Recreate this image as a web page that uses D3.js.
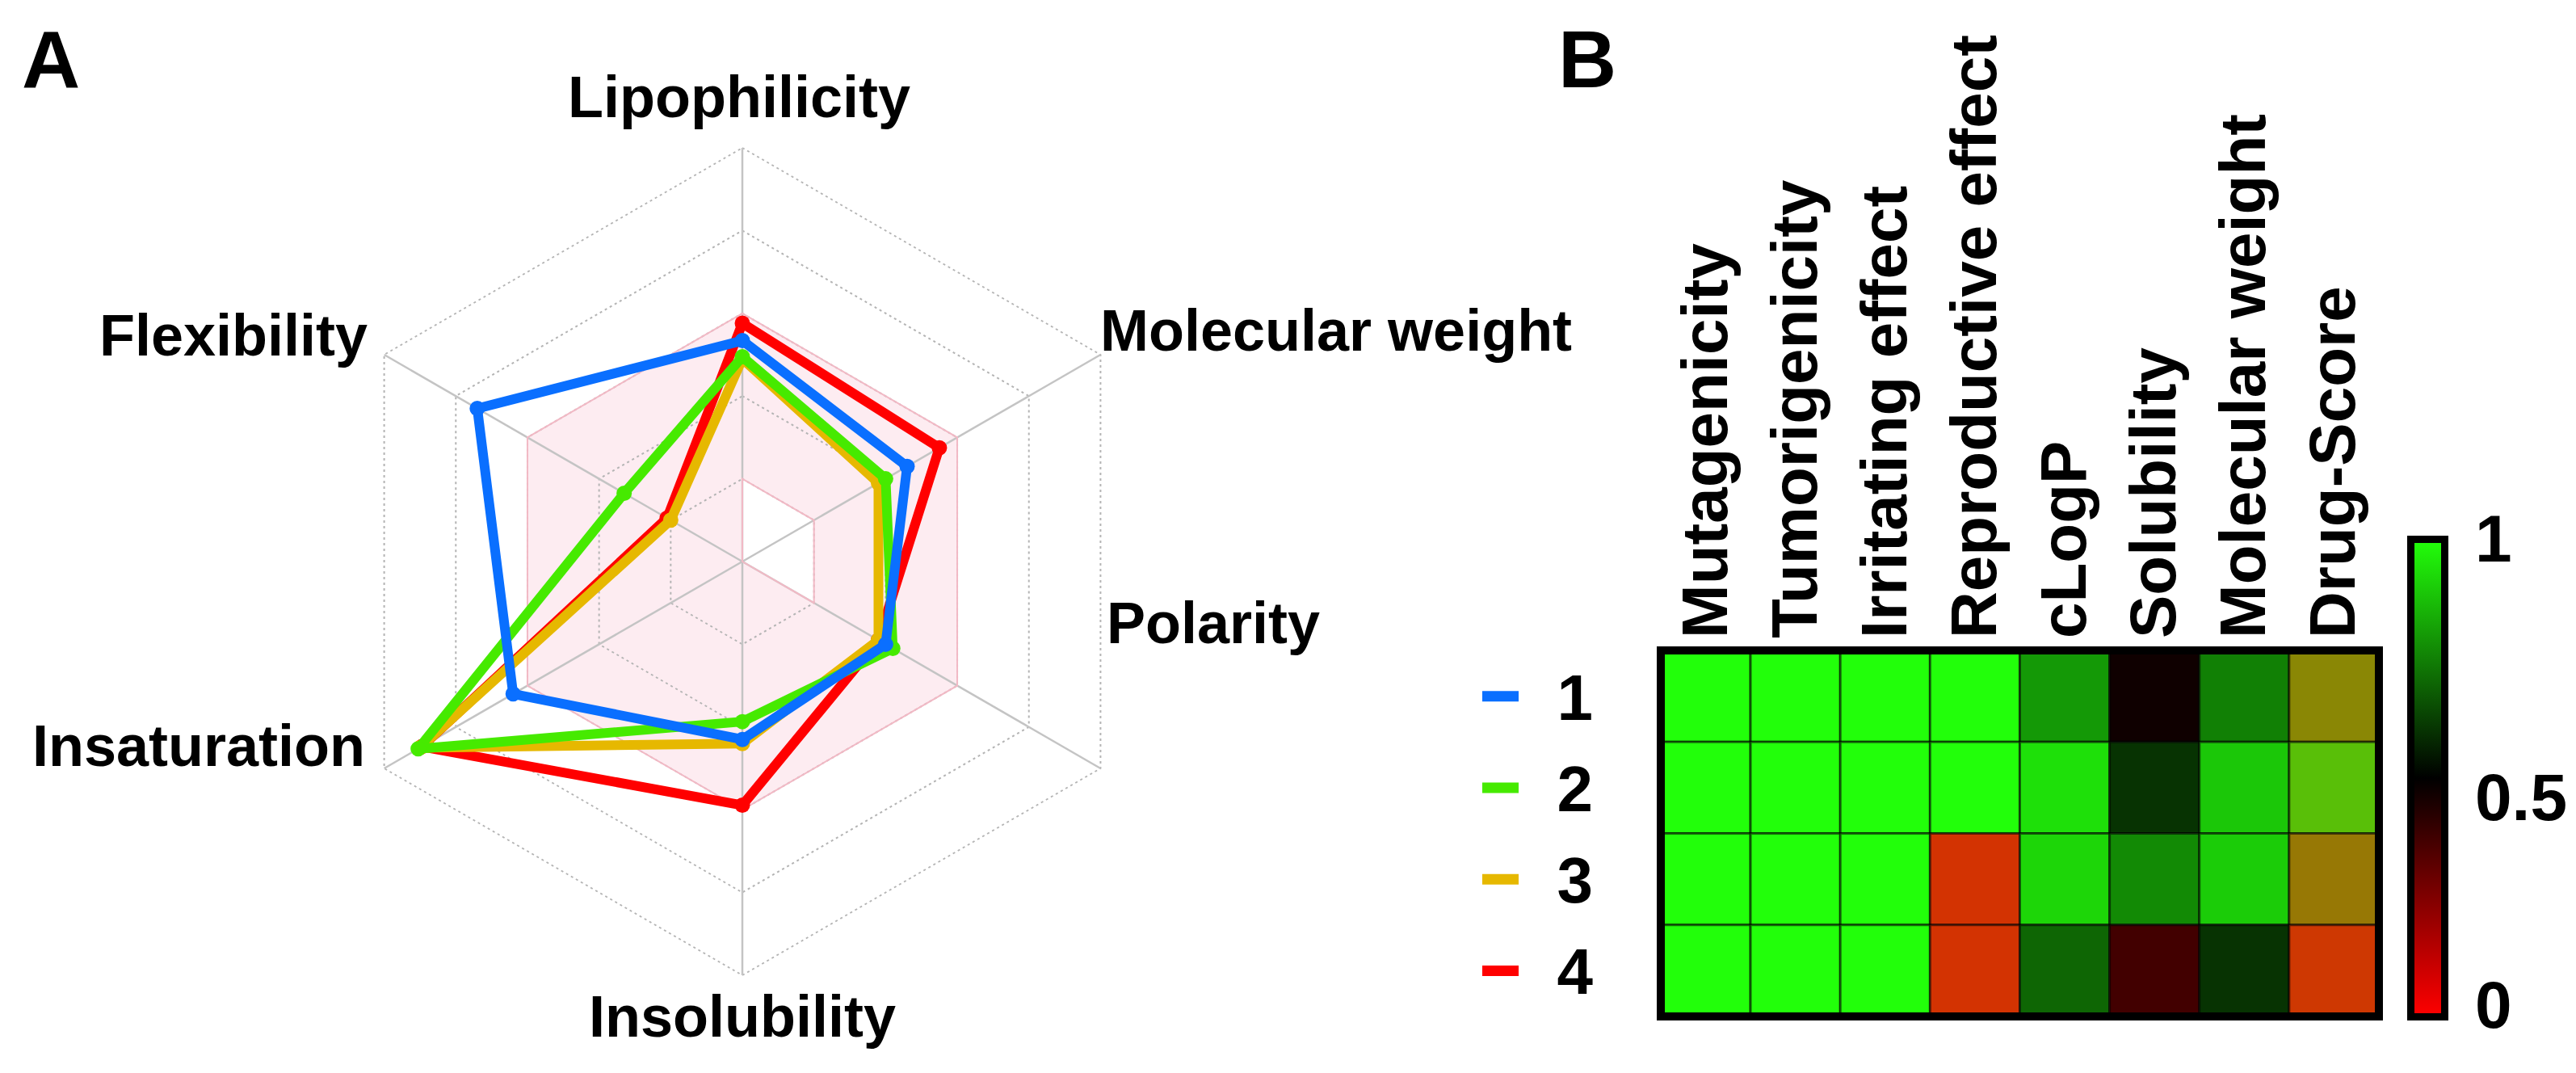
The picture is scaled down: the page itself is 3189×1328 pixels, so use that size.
<!DOCTYPE html>
<html>
<head>
<meta charset="utf-8">
<script src="https://cdn.jsdelivr.net/npm/d3@7"></script>
<style>
  html, body { margin: 0; padding: 0; background: #fff; }
  svg { display: block; }
  text { font-family: "Liberation Sans", Arial, sans-serif; font-weight: bold; fill: #000; }
</style>
</head>
<body>
<svg id="chart" width="3189" height="1328"></svg>
<script>
// ---------------- DATA ----------------
// Radar (panel A)
const radarAxes = ["Lipophilicity", "Molecular weight", "Polarity", "Insolubility", "Insaturation", "Flexibility"];
const radarSeriesNames = ["1", "2", "3", "4"];
const radar1 = [0.534, 0.46, 0.40, 0.43, 0.64, 0.74];
const radar2 = [0.495, 0.40, 0.42, 0.387, 0.905, 0.33];
const radar3 = [0.49, 0.38, 0.38, 0.44, 0.90, 0.20];
const radar4 = [0.576, 0.55, 0.38, 0.589, 0.895, 0.21];
const optimalMax = [0.6, 0.6, 0.6, 0.6, 0.6, 0.6];
const optimalMin = [0.2, 0.2, 0.2, 0, 0, 0];
const radarRings = [0.2, 0.4, 0.6, 0.8, 1.0];

// Heatmap (panel B)
const heatCols = ["Mutagenicity", "Tumorigenicity", "Irritating effect", "Reproductive effect", "cLogP", "Solubility", "Molecular weight", "Drug-Score"];
const heatColKind = ["risk", "risk", "risk", "risk", "property", "property", "property", "risk"];
const heatRows = ["1", "2", "3", "4"];
const heat1 = [1, 1, 1, 1, 0.80, 0.47, 0.75, 0.53];
const heat2 = [1, 1, 1, 1, 0.94, 0.60, 0.89, 0.75];
const heat3 = [1, 1, 1, 0.20, 0.92, 0.77, 0.90, 0.47];
const heat4 = [1, 1, 1, 0.20, 0.70, 0.37, 0.60, 0.22];
const colorbarTicks = [1, 0.5, 0];
const colorbarTickLabels = ["1", "0.5", "0"];

// ---------------- STYLE ----------------
const seriesColors = ["#0a6fff", "#46ea00", "#e6b800", "#ff0000"];
const RED = "#ff0000", BLACK = "#000000", GREEN = "#22ff0a";

const svg = d3.select("#chart");
svg.append("rect").attr("width", 3189).attr("height", 1328).attr("fill", "#fff");

// ---------------- PANEL A: RADAR ----------------
const cx = 919, cy = 695, R = 512;
const r = d3.scaleLinear().domain([0, 1]).range([0, R]);
const angle = d3.scaleLinear().domain([0, radarAxes.length]).range([Math.PI / 2, Math.PI / 2 - 2 * Math.PI]);
function pt(i, v) {
  const a = angle(i);
  return [cx + r(v) * Math.cos(a), cy - r(v) * Math.sin(a)];
}
const closedLine = d3.line().curve(d3.curveLinearClosed);

const gA = svg.append("g");

// Optimal (pink) zone: outer polygon minus inner polygon
const outerPts = optimalMax.map((v, i) => pt(i, v));
const innerPts = optimalMin.map((v, i) => pt(i, v));
gA.append("path")
  .attr("d", closedLine(outerPts) + closedLine(innerPts))
  .attr("fill", "#fdecf1")
  .attr("fill-rule", "evenodd")
  .attr("stroke", "none");

// Grid rings (dotted)
radarRings.forEach(rv => {
  gA.append("path")
    .attr("d", closedLine(radarAxes.map((_, i) => pt(i, rv))))
    .attr("fill", "none")
    .attr("stroke", "#b4b4b4")
    .attr("stroke-width", 2)
    .attr("stroke-dasharray", "3,4");
});
// Axes (solid)
radarAxes.forEach((_, i) => {
  const p = pt(i, 1);
  gA.append("line")
    .attr("x1", cx).attr("y1", cy).attr("x2", p[0]).attr("y2", p[1])
    .attr("stroke", "#c4c4c4").attr("stroke-width", 2.5);
});
// Pink zone border
gA.append("path")
  .attr("d", closedLine(outerPts) + closedLine(innerPts))
  .attr("fill", "none")
  .attr("stroke", "#f2b9c5")
  .attr("stroke-width", 2);

// Series (draw red first, blue last)
const radarSeries = [radar1, radar2, radar3, radar4];
[3, 2, 1, 0].forEach(k => {
  const pts = radarSeries[k].map((v, i) => pt(i, v));
  gA.append("path")
    .attr("d", closedLine(pts))
    .attr("fill", "none")
    .attr("stroke", seriesColors[k])
    .attr("stroke-width", 12)
    .attr("stroke-linejoin", "round");
  gA.selectAll(null).data(pts).enter().append("circle")
    .attr("cx", d => d[0]).attr("cy", d => d[1]).attr("r", 9.5)
    .attr("fill", seriesColors[k]);
});

// Axis labels
const labelPos = [
  { x: 915, y: 145, anchor: "middle" },
  { x: 1362, y: 434, anchor: "start" },
  { x: 1370, y: 796, anchor: "start" },
  { x: 919, y: 1283, anchor: "middle" },
  { x: 452, y: 948, anchor: "end" },
  { x: 455, y: 440, anchor: "end" }
];
radarAxes.forEach((name, i) => {
  gA.append("text")
    .attr("x", labelPos[i].x).attr("y", labelPos[i].y)
    .attr("text-anchor", labelPos[i].anchor)
    .attr("font-size", 72)
    .text(name);
});

svg.append("text").attr("x", 27).attr("y", 109).attr("font-size", 100).text("A");
svg.append("text").attr("x", 1929).attr("y", 108).attr("font-size", 100).text("B");

// ---------------- PANEL B: HEATMAP ----------------
const hx0 = 2056, hx1 = 2945, hy0 = 805, hy1 = 1258;
const xB = d3.scaleBand().domain(heatCols).range([hx0, hx1]);
const yB = d3.scaleBand().domain(heatRows).range([hy0, hy1]);
const propColor = d3.scaleLinear().domain([0, 0.5, 1]).range([RED, BLACK, GREEN]).interpolate(d3.interpolateRgb);
const riskColor = d3.scaleLinear().domain([0, 1]).range([RED, GREEN]).interpolate(d3.interpolateRgb);

const heatData = [heat1, heat2, heat3, heat4];
const cells = [];
heatData.forEach((row, ri) => row.forEach((v, ci) => cells.push({ row: heatRows[ri], col: heatCols[ci], kind: heatColKind[ci], v })));

const gB = svg.append("g");
gB.selectAll("rect.cell").data(cells).enter().append("rect")
  .attr("class", "cell")
  .attr("x", d => xB(d.col)).attr("y", d => yB(d.row))
  .attr("width", xB.bandwidth()).attr("height", yB.bandwidth())
  .attr("fill", d => d.kind === "risk" ? riskColor(d.v) : propColor(d.v))
  .attr("stroke", "rgba(0,0,0,0.55)")
  .attr("stroke-width", 3);

gB.append("rect")
  .attr("x", hx0).attr("y", hy0).attr("width", hx1 - hx0).attr("height", hy1 - hy0)
  .attr("fill", "none").attr("stroke", "#000").attr("stroke-width", 10);

// Column labels (rotated)
gB.selectAll("text.col").data(heatCols).enter().append("text")
  .attr("class", "col")
  .attr("transform", d => `translate(${xB(d) + xB.bandwidth() / 2 + 26},790) rotate(-90)`)
  .attr("text-anchor", "start")
  .attr("font-size", 80)
  .text(d => d);

// Row labels + legend lines
gB.selectAll("line.leg").data(heatRows).enter().append("line")
  .attr("class", "leg")
  .attr("x1", 1835).attr("x2", 1880)
  .attr("y1", d => yB(d) + yB.bandwidth() / 2)
  .attr("y2", d => yB(d) + yB.bandwidth() / 2)
  .attr("stroke", (d, i) => seriesColors[i])
  .attr("stroke-width", 13);
gB.selectAll("text.row").data(heatRows).enter().append("text")
  .attr("class", "row")
  .attr("x", 1972)
  .attr("y", d => yB(d) + yB.bandwidth() / 2 + 29)
  .attr("text-anchor", "end")
  .attr("font-size", 80)
  .text(d => d);

// Colorbar
const defs = svg.append("defs");
const grad = defs.append("linearGradient").attr("id", "cbar").attr("x1", 0).attr("x2", 0).attr("y1", 1).attr("y2", 0);
[0, 0.25, 0.5, 0.75, 1].forEach(t => grad.append("stop").attr("offset", t).attr("stop-color", propColor(t)));
const cbx = 2984.5, cbw = 42, cby0 = 667.5, cby1 = 1258.5;
gB.append("rect")
  .attr("x", cbx).attr("y", cby0).attr("width", cbw).attr("height", cby1 - cby0)
  .attr("fill", "url(#cbar)").attr("stroke", "#000").attr("stroke-width", 9);
const cbLabelY = d3.scaleLinear().domain([0, 0.5, 1]).range([1272, 1015, 695]);
gB.selectAll("text.cb").data(colorbarTicks).enter().append("text")
  .attr("class", "cb")
  .attr("x", 3064)
  .attr("y", d => cbLabelY(d))
  .attr("font-size", 82)
  .text((d, i) => colorbarTickLabels[i]);
</script>
</body>
</html>
